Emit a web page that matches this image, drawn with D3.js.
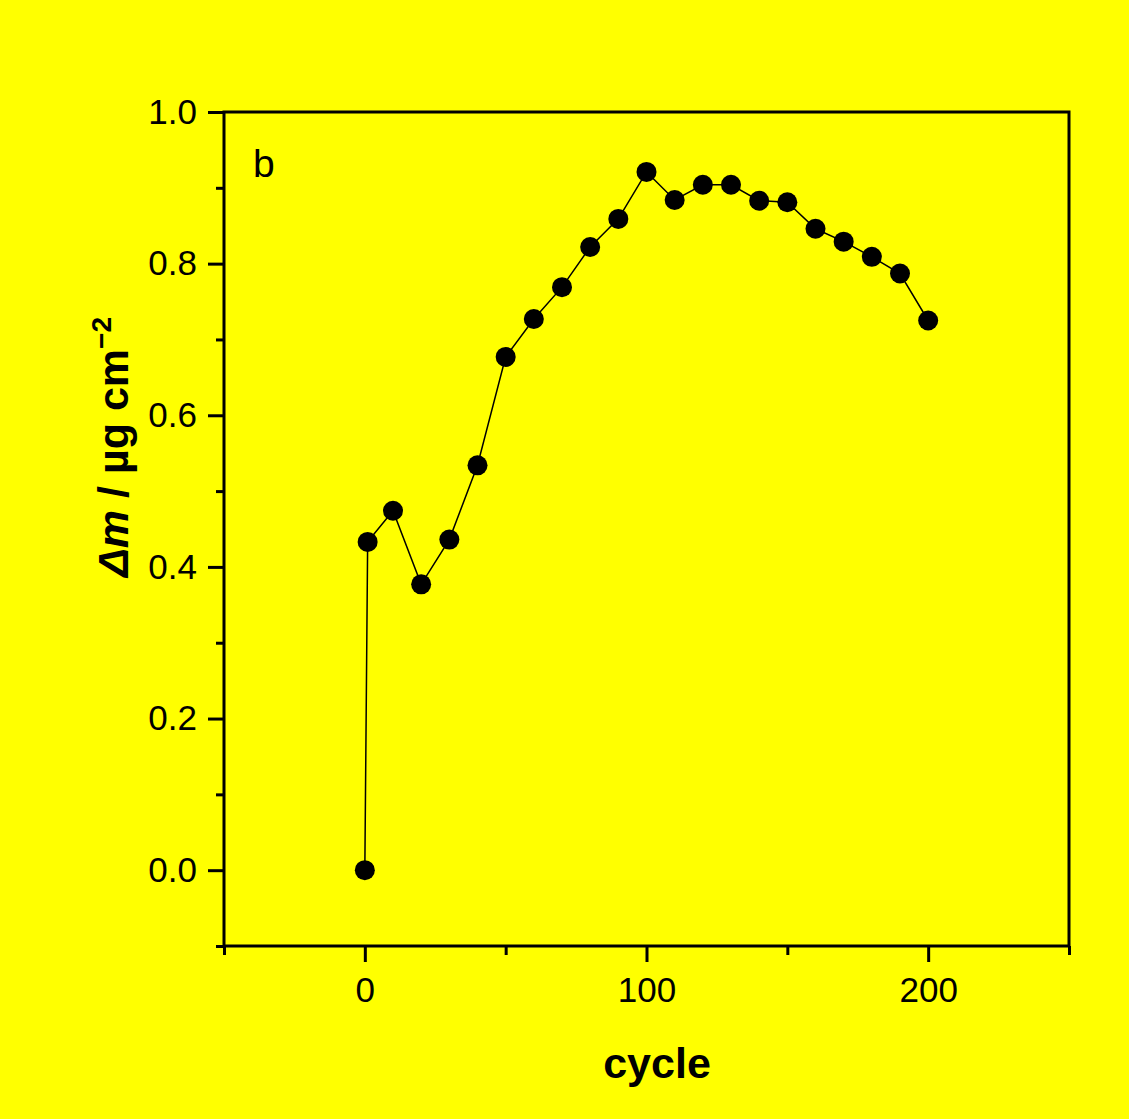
<!DOCTYPE html>
<html>
<head>
<meta charset="utf-8">
<script src="https://cdn.jsdelivr.net/npm/d3@7"></script>
<style>
  html, body { margin: 0; padding: 0; background: #ffff00; }
  text { font-family: Arial, "Liberation Sans", sans-serif; fill: #000; }
</style>
</head>
<body>
<div id="chart"></div>
<script>
// mass change per cycle
const cycles = [0, 1, 10, 20, 30, 40, 50, 60, 70, 80, 90, 100, 110, 120, 130, 140, 150, 160, 170, 180, 190, 200];
const massChange = [0, 0.433, 0.474, 0.377, 0.436, 0.534, 0.677, 0.727, 0.769, 0.822, 0.859, 0.921,
  0.884, 0.904, 0.904, 0.883, 0.881, 0.846, 0.829, 0.809, 0.787, 0.725];
const xMajorTicks = [0, 100, 200];
const xMinorTicks = [-50, 50, 150, 250];
const yMajorTicks = [0, 0.2, 0.4, 0.6, 0.8, 1.0];
const yMinorTicks = [-0.1, 0.1, 0.3, 0.5, 0.7, 0.9];

const data = cycles.map((c, i) => ({ cycle: c, dm: massChange[i] }));

const W = 1129, H = 1119;
const margin = { top: 112, right: 60, bottom: 173, left: 224 };
const width = W - margin.left - margin.right;
const height = H - margin.top - margin.bottom;

const svg = d3.select("#chart").append("svg")
  .attr("width", W)
  .attr("height", H);

svg.append("rect").attr("width", W).attr("height", H).attr("fill", "#ffff00");

const g = svg.append("g").attr("transform", `translate(${margin.left},${margin.top})`);

const x = d3.scaleLinear().domain([-50, 250]).range([0, width]);
const y = d3.scaleLinear().domain([-0.1, 1.0]).range([height, 0]);

// ticks
const axisStyle = sel => {
  sel.select(".domain").remove();
  sel.selectAll("line").attr("stroke", "#000").attr("stroke-width", 3);
};

g.append("g")
  .attr("transform", `translate(0,${height})`)
  .call(d3.axisBottom(x).tickValues(xMajorTicks).tickSize(16).tickPadding(15).tickFormat(d3.format("d")))
  .call(axisStyle)
  .call(a => a.selectAll("text").style("font-size", "35px"));

g.append("g")
  .attr("transform", `translate(0,${height})`)
  .call(d3.axisBottom(x).tickValues(xMinorTicks).tickSize(9).tickFormat(""))
  .call(axisStyle);

g.append("g")
  .call(d3.axisLeft(y).tickValues(yMajorTicks).tickSize(16).tickPadding(11).tickFormat(d3.format(".1f")))
  .call(axisStyle)
  .call(a => a.selectAll("text").style("font-size", "35px"));

g.append("g")
  .call(d3.axisLeft(y).tickValues(yMinorTicks).tickSize(8).tickFormat(""))
  .call(axisStyle);

// frame
g.append("rect")
  .attr("width", width)
  .attr("height", height)
  .attr("fill", "none")
  .attr("stroke", "#000")
  .attr("stroke-width", 3);

// data line and markers
const line = d3.line()
  .x(d => x(d.cycle))
  .y(d => y(d.dm));

g.append("path")
  .datum(data)
  .attr("fill", "none")
  .attr("stroke", "#000")
  .attr("stroke-width", 1.5)
  .attr("d", line);

g.selectAll(".pt")
  .data(data)
  .enter()
  .append("circle")
  .attr("class", "pt")
  .attr("cx", d => x(d.cycle))
  .attr("cy", d => y(d.dm))
  .attr("r", 10)
  .attr("fill", "#000");

// panel label
g.append("text")
  .attr("x", 29)
  .attr("y", 65)
  .style("font-size", "39px")
  .text("b");

// axis titles
svg.append("text")
  .attr("x", 657)
  .attr("y", 1078)
  .attr("text-anchor", "middle")
  .style("font-size", "43px")
  .style("font-weight", "bold")
  .text("cycle");

const yTitle = svg.append("text")
  .attr("transform", "translate(128,447) rotate(-90)")
  .attr("text-anchor", "middle")
  .style("font-size", "43px")
  .style("font-weight", "bold");
yTitle.append("tspan").style("font-style", "italic").text("Δm");
yTitle.append("tspan").text(" / µg cm");
yTitle.append("tspan").attr("dy", -17).style("font-size", "28px").text("−2");
</script>
</body>
</html>
